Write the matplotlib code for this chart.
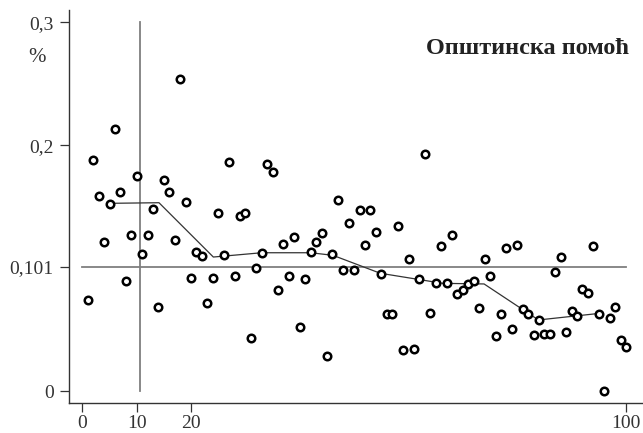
import matplotlib
matplotlib.use("Agg")
import matplotlib.pyplot as plt
import numpy as np

# ---- data ----
rank = list(range(1, 101))
share = [
    0.0743, 0.1877, 0.1587, 0.1212, 0.1524, 0.2132, 0.1617, 0.0895, 0.1267, 0.1747,
    0.1112, 0.1267, 0.1478, 0.0683, 0.1717, 0.1617, 0.1229, 0.2539, 0.1535, 0.0922,
    0.1129, 0.1096, 0.0714, 0.0922, 0.1451, 0.1109, 0.1863, 0.0936, 0.1426, 0.1451,
    0.0429, 0.1001, 0.1125, 0.1847, 0.1784, 0.0819, 0.1194, 0.0936, 0.1251, 0.0523,
    0.0909, 0.1129, 0.1212, 0.1288, 0.0282, 0.1112, 0.1554, 0.0982, 0.1363, 0.0982,
    0.1473, 0.1188, 0.1473, 0.1296, 0.0952, 0.0624, 0.0629, 0.1345, 0.0331, 0.1077,
    0.0339, 0.0909, 0.1928, 0.0632, 0.0876, 0.1176, 0.0881, 0.1269, 0.0792, 0.0822,
    0.0871, 0.0897, 0.0678, 0.1077, 0.0938, 0.0448, 0.0624, 0.1166, 0.0502, 0.1188,
    0.0667, 0.0629, 0.0453, 0.0580, 0.0464, 0.0464, 0.0966, 0.1093, 0.0483, 0.0648,
    0.0613, 0.0832, 0.0800, 0.1177, 0.0624, 0.0000, 0.0596, 0.0683, 0.0415, 0.0360,
]
band_x = [5.0, 14.1, 24.1, 33.0, 42.0, 46.1, 54.8, 66.3, 73.9, 83.9, 95.2]
band_y = [0.1527, 0.1532, 0.1090, 0.1125, 0.1125, 0.1104, 0.0958, 0.0876, 0.0871, 0.0578, 0.0632]
mean_value = 0.101
cut_rank = 10.6
yticks = [0, 0.101, 0.2, 0.3]
ytick_labels = ["0", "0,101", "0,2", "0,3"]
xticks = [0, 10, 20, 100]
xtick_labels = ["0", "10", "20", "100"]
title = "Општинска помоћ"
unit = "%"

# ---- figure ----
W, H = 643, 433
fig = plt.figure(figsize=(W / 100, H / 100), dpi=100)
ax = fig.add_axes([69 / W, (H - 403) / H, (W - 69) / W + 0.01, (403 - 10) / H])
serif = ["Liberation Serif", "DejaVu Serif"]
txt_col = "#333333"

ax.set_xlim(-2.45, 103.13 + 0.01 * W / 5.437)
ax.set_ylim(-0.00976, 0.3100)

ref_col = "#7f7f7f"
ax.plot([0, 100], [mean_value, mean_value], color=ref_col, lw=1.3, zorder=1)
ax.plot([cut_rank, cut_rank], [0, 0.3], color=ref_col, lw=1.3, zorder=1)
ax.plot(band_x, band_y, color="#333333", lw=0.9, zorder=2)
ax.plot(rank, share, linestyle="none", marker="o", ms=5.4, mew=1.8,
        mfc="white", mec="black", zorder=3)

for s in ["top", "right"]:
    ax.spines[s].set_visible(False)
for s in ["left", "bottom"]:
    ax.spines[s].set_color("#333333")
    ax.spines[s].set_linewidth(1.0)

ax.set_yticks(yticks)
ax.set_yticklabels(ytick_labels)
ax.set_xticks(xticks)
ax.set_xticklabels(xtick_labels)
ax.tick_params(axis="both", direction="out", length=6.5, width=0.9, color="#333333",
               labelsize=14, labelcolor=txt_col)
ax.tick_params(axis="y", pad=4.5)
ax.tick_params(axis="x", pad=2)
for lab in ax.get_xticklabels() + ax.get_yticklabels():
    lab.set_family(serif)

fig.text(37 / W, 1 - 58 / H, unit, ha="center", va="center", fontsize=15,
         family=serif, color=txt_col)
fig.text(629 / W, 1 - 48 / H, title, ha="right", va="center", fontsize=17.5,
         fontweight="bold", family=serif, color="#222222")

fig.savefig("out.png", dpi=100)
